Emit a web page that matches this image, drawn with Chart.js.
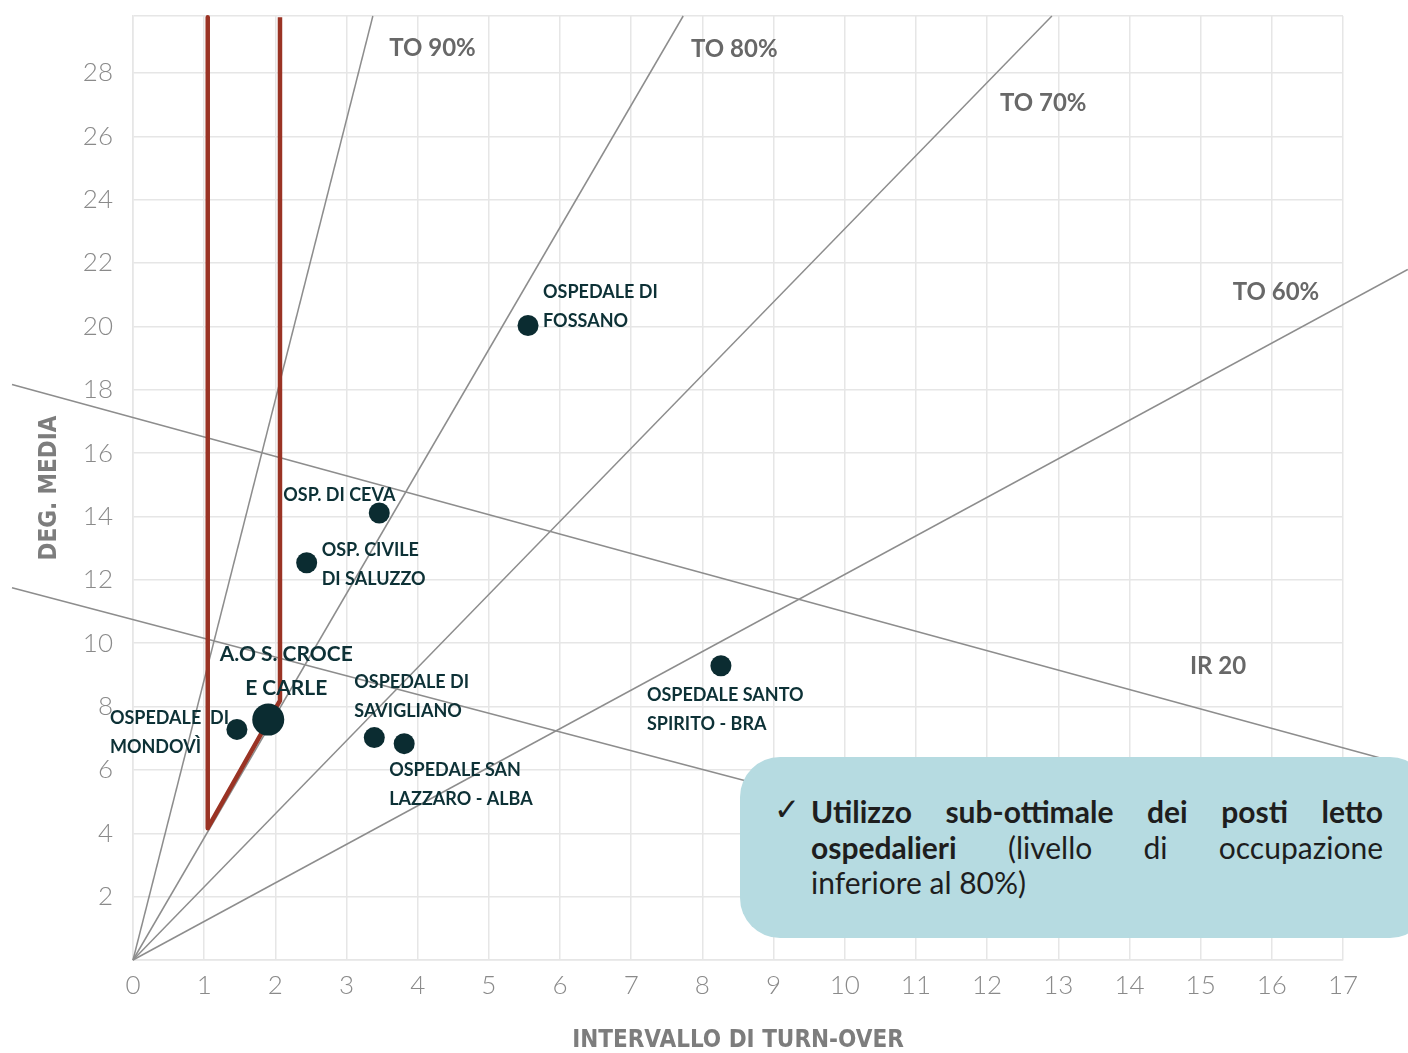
<!DOCTYPE html>
<html>
<head>
<meta charset="utf-8">
<script src="https://cdn.jsdelivr.net/npm/chart.js@4.4.1/dist/chart.umd.min.js"></script>
<style>
  html, body { margin: 0; padding: 0; background: #fff; }
  #wrap { position: relative; width: 1408px; height: 1053px; overflow: hidden; }
  #c { position: absolute; left: 0; top: 0; }
  #note {
    position: absolute; left: 740px; top: 757px; width: 690px; height: 181px;
    background: #b6dbe1; border-radius: 40px;
    font-family: Lato, sans-serif; font-size: 30px; color: #1e1e1e;
  }
  #note .check { position: absolute; left: 34px; top: 34px; font-family: "DejaVu Sans"; font-size: 31px; line-height: 36px; }
  #note .txt { position: absolute; left: 71px; top: 37px; width: 572px; line-height: 35.5px; }
  #note .j { text-align: justify; text-align-last: justify; }
</style>
</head>
<body>
<div id="wrap">
  <canvas id="c" width="1408" height="1053"></canvas>
  <div id="note">
    <span class="check">✓</span>
    <div class="txt">
      <div class="j"><b>Utilizzo sub-ottimale dei posti letto</b></div>
      <div class="j"><b>ospedalieri</b> (livello di occupazione</div>
      <div>inferiore al 80%)</div>
    </div>
  </div>
</div>
<script>
// --- dati ---
const hospitals = ['A.O S. CROCE E CARLE', 'OSPEDALE DI MONDOVÌ', 'OSP. CIVILE DI SALUZZO', 'OSP. DI CEVA',
                   'OSPEDALE DI FOSSANO', 'OSPEDALE DI SAVIGLIANO', 'OSPEDALE SAN LAZZARO - ALBA', 'OSPEDALE SANTO SPIRITO - BRA'];
const hospitalLines = [['A.O S. CROCE', 'E CARLE'], ['OSPEDALE  DI', 'MONDOVÌ'], ['OSP. CIVILE', 'DI SALUZZO'], ['OSP. DI CEVA'],
                       ['OSPEDALE DI', 'FOSSANO'], ['OSPEDALE DI', 'SAVIGLIANO'], ['OSPEDALE SAN', 'LAZZARO - ALBA'], ['OSPEDALE SANTO', 'SPIRITO - BRA']];
const turnoverInterval = [1.90, 1.46, 2.44, 3.46, 5.55, 3.39, 3.81, 8.26];   // asse x
const degenzaMedia     = [7.59, 7.28, 12.54, 14.11, 20.03, 7.02, 6.83, 9.29]; // asse y

// rette del tasso di occupazione (dall'origine al bordo)
const occupancyLabels = ['TO 90%', 'TO 80%', 'TO 70%', 'TO 60%'];
const occupancyEndX = [3.37, 7.73, 12.91, 17.91];
const occupancyEndY = [29.8, 29.8, 29.8, 21.8];

// rette indice di rotazione
const irLabel = 'IR 20';
const irUpperX = [-1.70, 17.91];
const irUpperY = [18.17, 6.14];
const irLowerX = [-1.70, 10.78];
const irLowerY = [11.75, 4.37];

// zona ottimale (rosso)
const optimalX = [1.05, 1.05, 2.065, 2.065];
const optimalY = [29.76, 4.16, 8.19, 29.76];

const xTicks = [0, 1, 2, 3, 4, 5, 6, 7, 8, 9, 10, 11, 12, 13, 14, 15, 16, 17];
const yTicks = [2, 4, 6, 8, 10, 12, 14, 16, 18, 20, 22, 24, 26, 28];

const pts = (xs, ys) => xs.map((x, i) => ({ x: x, y: ys[i] }));

// posizioni delle etichette (pixel rispetto al punto)
const labelLayout = [
  { dx: 18, dy: -65, gap: 34, align: 'center', size: 21 },
  { dx: -127, dy: -11, gap: 29 },
  { dx: 15, dy: -13, gap: 29 },
  { dx: -96, dy: -18, gap: 29 },
  { dx: 15, dy: -33, gap: 29 },
  { dx: -20, dy: -55, gap: 29 },
  { dx: -15, dy: 27, gap: 29 },
  { dx: -74, dy: 29, gap: 29 }
];
// ancore (in unita' dati) per le scritte TO / IR
const annotationAnchors = [[3.60, 28.79], [7.84, 28.76], [12.18, 27.06], [15.45, 21.07]];
const irAnchor = [14.85, 9.26];

const labelsPlugin = {
  id: 'labels',
  afterDatasetsDraw(chart) {
    const ctx = chart.ctx;
    const xs = chart.scales.x, ys = chart.scales.y;
    ctx.save();
    ctx.textBaseline = 'middle';
    ctx.fillStyle = '#686868';
    ctx.font = 'bold 24px Lato';
    ctx.textAlign = 'left';
    occupancyLabels.forEach((t, i) => {
      ctx.fillText(t, xs.getPixelForValue(annotationAnchors[i][0]), ys.getPixelForValue(annotationAnchors[i][1]));
    });
    ctx.fillText(irLabel, xs.getPixelForValue(irAnchor[0]), ys.getPixelForValue(irAnchor[1]));

    const meta = chart.getDatasetMeta(0);
    ctx.fillStyle = '#0d3136';
    hospitalLines.forEach((lines, i) => {
      const p = meta.data[i];
      const l = labelLayout[i];
      ctx.font = 'bold ' + (l.size || 18) + 'px Lato';
      ctx.textAlign = l.align || 'left';
      lines.forEach((s, k) => ctx.fillText(s, p.x + l.dx, p.y + l.dy + k * l.gap));
    });
    ctx.restore();
  }
};

const grey = '#8d8d8d';
const lineDs = (data, color, width) => ({
  data: data, showLine: true, borderColor: color, borderWidth: width,
  pointRadius: 0, pointHoverRadius: 0, clip: false, fill: false
});

const datasets = [
  {
    label: 'Ospedali',
    data: pts(turnoverInterval, degenzaMedia),
    backgroundColor: '#0b2c31', borderWidth: 0,
    pointRadius: c => c.dataIndex === 0 ? 16 : 10.5,
    pointHoverRadius: c => c.dataIndex === 0 ? 16 : 10.5,
    showLine: false, clip: false
  },
  Object.assign(lineDs(pts(optimalX, optimalY), '#9a3324', 4.5), { borderJoinStyle: 'round' }),
  ...occupancyEndX.map((x, i) => lineDs([{ x: 0, y: 0 }, { x: x, y: occupancyEndY[i] }], grey, 1.5)),
  lineDs(pts(irUpperX, irUpperY), grey, 1.5),
  lineDs(pts(irLowerX, irLowerY), grey, 1.5)
];

const tickFont = { family: 'Lato', size: 26, weight: 300 };
const titleFont = { family: "'DejaVu Sans Condensed', 'DejaVu Sans', sans-serif", size: 24, weight: 'bold', lineHeight: 1 };

new Chart(document.getElementById('c'), {
  type: 'scatter',
  data: { datasets: datasets },
  options: {
    responsive: false,
    animation: false,
    layout: { padding: { top: 13, right: 65, left: 0, bottom: 0 } },
    plugins: { legend: { display: false }, tooltip: { enabled: false } },
    scales: {
      x: {
        type: 'linear', min: 0, max: 17,
        afterFit: s => { s.height = 93; s.paddingLeft = 0; s.paddingRight = 0; },
        ticks: { stepSize: 1, color: '#8a8a8a', font: tickFont, padding: 10,
                 callback: v => xTicks.includes(v) ? String(v) : '' },
        grid: { color: '#e6e6e6', lineWidth: 1.5, drawTicks: false },
        border: { display: true, color: '#e6e6e6', width: 1.5 },
        title: { display: true, text: 'INTERVALLO DI TURN-OVER', color: '#7d7d7d', font: titleFont, padding: 0 }
      },
      y: {
        type: 'linear', min: 0, max: 29.8,
        afterFit: s => { s.width = 133; s.paddingTop = 0; s.paddingBottom = 0; },
        ticks: { stepSize: 2, color: '#8a8a8a', font: tickFont, padding: 20,
                 callback: v => yTicks.includes(v) ? String(v) : '' },
        grid: { color: '#e6e6e6', lineWidth: 1.5, drawTicks: false },
        border: { display: true, color: '#e6e6e6', width: 1.5 },
        title: { display: true, text: 'DEG. MEDIA', color: '#7d7d7d', font: titleFont, padding: { top: 38 } }
      }
    }
  },
  plugins: [labelsPlugin]
});
</script>
</body>
</html>
